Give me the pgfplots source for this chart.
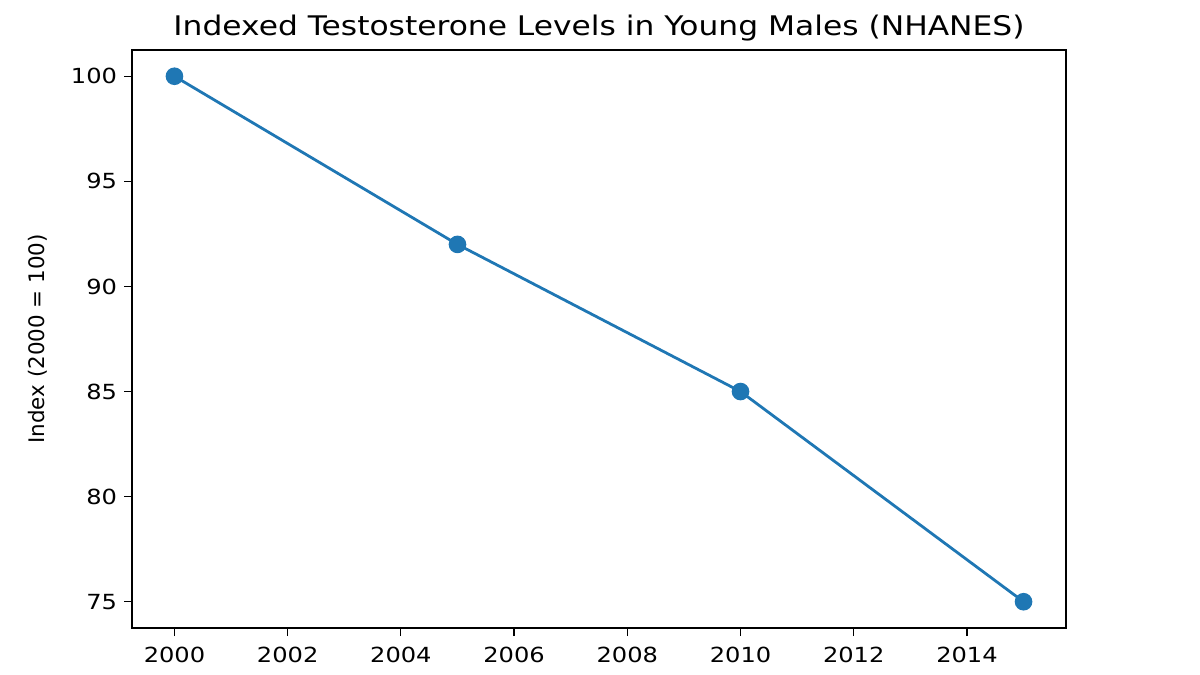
\documentclass[border=0pt]{standalone}
\usepackage{pgfplots}
\pgfplotsset{compat=1.18}
\usepackage{fontspec}
\setmainfont[FakeStretch=1.16]{DejaVu Sans}
\newfontfamily\plainfont{DejaVu Sans}
\definecolor{mplblue}{HTML}{1F77B4}
\begin{document}
\begin{tikzpicture}
\path[use as bounding box] (0bp,0bp) rectangle (600bp,337.5bp);
\begin{axis}[
  at={(66bp,23.5bp)}, anchor=south west,
  scale only axis, width=467bp, height=289bp,
  xmin=1999.25, xmax=2015.75, ymin=73.75, ymax=101.25,
  xtick={2000,2002,...,2014}, ytick={75,80,...,100},
  /pgf/number format/assume math mode=true,
  xticklabel style={/pgf/number format/1000 sep={}, yshift=-2bp},
  tick label style={font=\fontsize{10.4bp}{12bp}\selectfont},
  tick align=outside, major tick length=4bp,
  xtick pos=bottom, ytick pos=left,
  axis line style={line width=0.6bp},
  tick style={line width=0.6bp, black},
  title={Indexed Testosterone Levels in Young Males (NHANES)},
  title style={at={(rel axis cs:0.5,1.005)}, anchor=base, font=\fontsize{13.5bp}{15bp}\selectfont},
  ylabel={Index (2000 = 100)},
  ylabel style={at={(rel axis cs:-0.1006,0.5)}, anchor=center, font=\plainfont\fontsize{10.7bp}{12bp}\selectfont},
]
\addplot[color=mplblue, line width=1.4bp, mark=*, mark size=3.7bp, mark options={fill=mplblue, draw=mplblue}] coordinates {
(2000,100) (2005,92) (2010,85) (2015,75)
};
\end{axis}
\end{tikzpicture}
\end{document}
